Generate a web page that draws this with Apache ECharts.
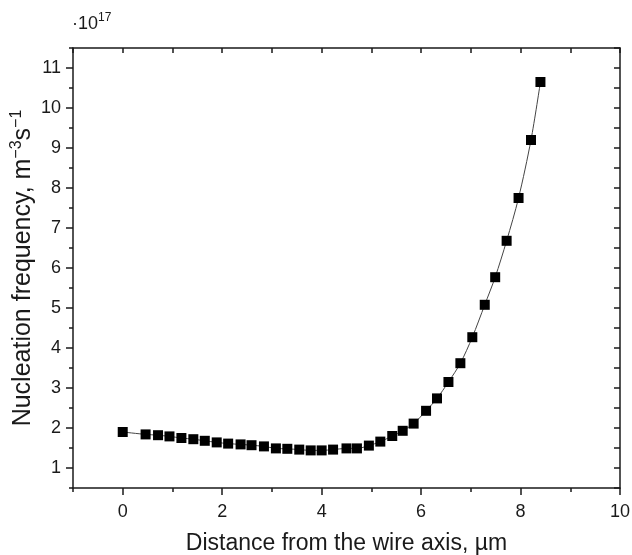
<!DOCTYPE html>
<html>
<head>
<meta charset="utf-8">
<script src="https://cdn.jsdelivr.net/npm/echarts@6/dist/echarts.min.js"></script>
<style>
  html, body { margin: 0; padding: 0; background: #fff; }
  #chart { width: 632px; height: 555px; }
</style>
</head>
<body>
<div id="chart"></div>
<script>
// distance from the wire axis, um
const distance = [0, 0.46, 0.71, 0.94, 1.18, 1.42, 1.65, 1.89, 2.12, 2.37, 2.59, 2.84,
  3.08, 3.31, 3.55, 3.78, 4.0, 4.23, 4.5, 4.71, 4.95, 5.18, 5.42, 5.63, 5.85,
  6.1, 6.32, 6.55, 6.79, 7.03, 7.28, 7.49, 7.72, 7.96, 8.21, 8.4]
// nucleation frequency, x1e17 m^-3 s^-1
const frequency = [1.9, 1.84, 1.82, 1.79, 1.75, 1.72, 1.68, 1.64, 1.61, 1.59, 1.57, 1.54,
  1.49, 1.48, 1.46, 1.44, 1.44, 1.46, 1.49, 1.49, 1.56, 1.66, 1.8, 1.93, 2.11,
  2.43, 2.74, 3.15, 3.62, 4.27, 5.08, 5.77, 6.68, 7.75, 9.2, 10.65]

const xMajor = [0, 2, 4, 6, 8, 10]
const xMinor = [-1, 1, 3, 5, 7, 9]
const xTop = [-1, 0, 1, 2, 3, 4, 5, 6, 7, 8, 9, 10]
const yMajor = [1, 2, 3, 4, 5, 6, 7, 8, 9, 10, 11]
const yMinor = [0.5, 1.5, 2.5, 3.5, 4.5, 5.5, 6.5, 7.5, 8.5, 9.5, 10.5, 11.5]
const yRight = [0.5, 1, 1.5, 2, 2.5, 3, 3.5, 4, 4.5, 5, 5.5, 6, 6.5, 7, 7.5, 8, 8.5, 9, 9.5, 10, 10.5, 11, 11.5]

const font = 'Liberation Sans, Arial, sans-serif'
const ink = '#1a1a1a'
const gridBox = { left: 73, right: 12, top: 48, bottom: 67, outerBoundsMode: 'none', containLabel: false }

const lineStyle = { color: ink, width: 1.5 }

let chart = echarts.init(document.getElementById('chart'))
let option = {
  animation: false,
  grid: [
    Object.assign({ show: false }, gridBox),
    Object.assign({ show: false }, gridBox),
  ],
  graphic: [
    {
      type: 'text',
      left: 72,
      top: 12,
      style: {
        text: '{a|·10}{s|17}',
        rich: {
          a: { fontFamily: font, fontSize: 18, fill: ink, lineHeight: 24 },
          s: { fontFamily: font, fontSize: 12, fill: ink, verticalAlign: 'top', lineHeight: 14 },
        },
      },
    },
  ],
  xAxis: [
    {
      gridIndex: 0,
      type: 'value',
      position: 'bottom',
      min: -1,
      max: 10,
      splitLine: { show: false },
      axisLine: { onZero: false, lineStyle },
      axisTick: { customValues: xMajor, length: 7, lineStyle },
      axisLabel: { customValues: xMajor, fontFamily: font, fontSize: 18, color: ink, margin: 15 },
      name: 'Distance from the wire axis, µm',
      nameLocation: 'middle',
      nameGap: 44,
      nameMoveOverlap: false,
      nameTextStyle: { fontFamily: font, fontSize: 23, color: ink },
    },
    {
      gridIndex: 0,
      type: 'value',
      position: 'top',
      min: -1,
      max: 10,
      splitLine: { show: false },
      axisLine: { onZero: false, lineStyle },
      axisTick: { customValues: xTop, inside: true, length: 5, lineStyle },
      axisLabel: { show: false },
    },
    {
      gridIndex: 1,
      type: 'value',
      position: 'bottom',
      min: -1,
      max: 10,
      splitLine: { show: false },
      axisLine: { show: false, onZero: false },
      axisTick: { customValues: xMinor, length: 4, lineStyle },
      axisLabel: { show: false },
    },
  ],
  yAxis: [
    {
      gridIndex: 0,
      type: 'value',
      position: 'left',
      min: 0.5,
      max: 11.5,
      splitLine: { show: false },
      axisLine: { onZero: false, lineStyle },
      axisTick: { customValues: yMajor, length: 7, lineStyle },
      axisLabel: { customValues: yMajor, fontFamily: font, fontSize: 18, color: ink, margin: 12 },
      name: '{a|Nucleation frequency, m}{s|−3}{a|s}{s|−1}',
      nameLocation: 'middle',
      nameGap: 36,
      nameMoveOverlap: false,
      nameTextStyle: {
        rich: {
          a: { fontFamily: font, fontSize: 25, color: ink, lineHeight: 28 },
          s: { fontFamily: font, fontSize: 16, color: ink, verticalAlign: 'top', lineHeight: 16 },
        },
      },
    },
    {
      gridIndex: 0,
      type: 'value',
      position: 'right',
      min: 0.5,
      max: 11.5,
      splitLine: { show: false },
      axisLine: { onZero: false, lineStyle },
      axisTick: { customValues: yRight, inside: true, length: 6, lineStyle },
      axisLabel: { show: false },
    },
    {
      gridIndex: 1,
      type: 'value',
      position: 'left',
      min: 0.5,
      max: 11.5,
      splitLine: { show: false },
      axisLine: { show: false, onZero: false },
      axisTick: { customValues: yMinor, length: 4, lineStyle },
      axisLabel: { show: false },
    },
  ],
  series: [
    {
      type: 'line',
      xAxisIndex: 0,
      yAxisIndex: 0,
      data: distance.map((x, i) => [x, frequency[i]]),
      symbol: 'rect',
      symbolSize: 10,
      itemStyle: { color: '#000' },
      lineStyle: { color: '#444', width: 1 },
      smooth: 0.3,
    },
  ],
}
chart.setOption(option)
</script>
</body>
</html>
